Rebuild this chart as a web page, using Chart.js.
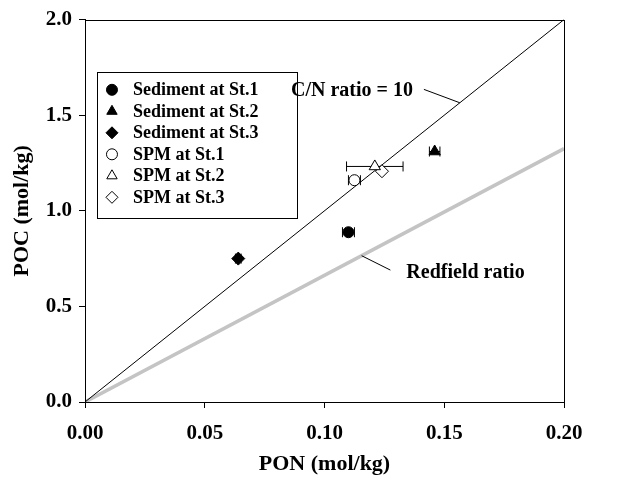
<!DOCTYPE html>
<html>
<head>
<meta charset="utf-8">
<script src="https://cdn.jsdelivr.net/npm/chart.js@4/dist/chart.umd.min.js"></script>
<style>
html,body{margin:0;padding:0;background:#fff;}
#wrap{width:627px;height:486px;position:relative;}
</style>
</head>
<body>
<div id="wrap"><canvas id="c" width="627" height="486"></canvas></div>
<script>
// ---- data ----
const seriesLabels = ['Sediment at St.1','Sediment at St.2','Sediment at St.3','SPM at St.1','SPM at St.2','SPM at St.3'];
const ponValues = [0.110, 0.146, 0.064, 0.1125, 0.121, 0.124];
const pocValues = [0.888, 1.310, 0.750, 1.160, 1.232, 1.207];
const ponErrors = [0.0025, 0.0022, 0.0012, 0.0025, 0.0118, 0.0];
const pointStyles = ['circle','triangle','rectRot','circle','triangle','rectRot'];
const filled = [true, true, true, false, false, false];
const xTicks = [0.00, 0.05, 0.10, 0.15, 0.20];
const yTicks = [0.0, 0.5, 1.0, 1.5, 2.0];
const cnRatio = 10;
const redfieldRatio = 106/16;
const cnLabel = 'C/N ratio = 10';
const redfieldLabel = 'Redfield ratio';

const FONT = "'Liberation Serif','Times New Roman',serif";

const pointSizes = {circle:5.5, triangle:6.5, rectRot:6.5};

const datasets = [];
datasets.push({
  type:'line', label:'redfield', data:[{x:0,y:0},{x:0.2,y:0.2*redfieldRatio}],
  borderColor:'#c4c4c4', borderWidth:3.5, pointRadius:0, fill:false, order:10
});
datasets.push({
  type:'line', label:'cn', data:[{x:0,y:0},{x:0.2,y:0.2*cnRatio}],
  borderColor:'#000', borderWidth:1, pointRadius:0, fill:false, order:9
});
seriesLabels.forEach((lab,i)=>{
  datasets.push({
    type:'scatter', label:lab,
    data:[{x:ponValues[i], y:pocValues[i], xerr:ponErrors[i]}],
    pointStyle:pointStyles[i],
    pointRadius:pointSizes[pointStyles[i]],
    backgroundColor: filled[i] ? '#000' : '#fff',
    borderColor:'#000', borderWidth:1, order:1,
    isSeries:true, seriesIndex:i
  });
});

const errorBars = {
  id:'errorBars',
  beforeDatasetsDraw(chart){
    const {ctx, scales:{x,y}} = chart;
    ctx.save();
    ctx.strokeStyle='#000'; ctx.lineWidth=1;
    chart.data.datasets.forEach(ds=>{
      if(!ds.isSeries) return;
      ds.data.forEach(p=>{
        if(!p.xerr) return;
        const yp = y.getPixelForValue(p.y);
        const x1 = x.getPixelForValue(p.x - p.xerr), x2 = x.getPixelForValue(p.x + p.xerr);
        ctx.beginPath();
        ctx.moveTo(x1,yp); ctx.lineTo(x2,yp);
        ctx.moveTo(x1,yp-5); ctx.lineTo(x1,yp+5);
        ctx.moveTo(x2,yp-5); ctx.lineTo(x2,yp+5);
        ctx.stroke();
      });
    });
    ctx.restore();
  }
};

const decorations = {
  id:'decorations',
  afterDraw(chart){
    const {ctx, chartArea:a, scales:{x,y}} = chart;
    ctx.save();
    // frame
    ctx.strokeStyle='#000'; ctx.lineWidth=1;
    ctx.strokeRect(Math.round(a.left)+0.5, Math.round(a.top)+0.5, Math.round(a.right-a.left), Math.round(a.bottom-a.top));
    // legend box
    const lx = x.getPixelForValue(0.005), ly = y.getPixelForValue(1.727);
    const lw = 200, rowH = 21.5, lh = 146;
    ctx.fillStyle='#fff';
    ctx.fillRect(lx, ly, lw, lh);
    ctx.strokeRect(Math.round(lx)+0.5, Math.round(ly)+0.5, lw, lh);
    ctx.font = "bold 18px " + FONT;
    ctx.textBaseline='middle';
    ctx.textAlign='left';
    seriesLabels.forEach((lab,i)=>{
      const cy = ly + 18 + i*rowH;
      ctx.fillStyle = filled[i] ? '#000' : '#fff';
      ctx.strokeStyle = '#000'; ctx.lineWidth=1;
      const st = pointStyles[i];
      Chart.helpers.drawPoint(ctx, {pointStyle:st, radius: st==='circle'?5.5:6, rotation:0, borderWidth:1}, lx+15, cy);
      ctx.fillStyle='#000';
      ctx.fillText(lab, lx+36, cy+1);
    });
    // annotations
    ctx.strokeStyle='#000'; ctx.lineWidth=1; ctx.fillStyle='#000';
    ctx.font = "bold 20px " + FONT;
    // C/N leader
    const cnEnd = [0.1565, 0.1565*cnRatio];
    const cnStart = [0.1415, 1.635];
    ctx.beginPath();
    ctx.moveTo(x.getPixelForValue(cnStart[0]), y.getPixelForValue(cnStart[1]));
    ctx.lineTo(x.getPixelForValue(cnEnd[0]), y.getPixelForValue(cnEnd[1]));
    ctx.stroke();
    ctx.textAlign='right';
    ctx.fillText(cnLabel, x.getPixelForValue(cnStart[0]) - 11, y.getPixelForValue(cnStart[1]) + 1);
    // Redfield leader
    const rfStart = [0.1155, 0.1155*redfieldRatio];
    const rfEnd = [0.1275, 0.69];
    ctx.beginPath();
    ctx.moveTo(x.getPixelForValue(rfStart[0]), y.getPixelForValue(rfStart[1]));
    ctx.lineTo(x.getPixelForValue(rfEnd[0]), y.getPixelForValue(rfEnd[1]));
    ctx.stroke();
    ctx.textAlign='left';
    ctx.fillText(redfieldLabel, x.getPixelForValue(rfEnd[0]) + 16, y.getPixelForValue(rfEnd[1]) + 3);
    ctx.restore();
  }
};

new Chart(document.getElementById('c'), {
  data:{datasets},
  options:{
    responsive:false, animation:false,
    devicePixelRatio:1,
    layout:{padding:{top:17, right:63, left:0, bottom:0}},
    plugins:{legend:{display:false}, tooltip:{enabled:false}},
    scales:{
      x:{
        type:'linear', min:0, max:0.2,
        afterBuildTicks(s){ s.ticks = xTicks.map(v=>({value:v})); },
        afterFit(s){ s.height = 84; },
        grid:{drawOnChartArea:false, color:'#000', tickLength:6, tickWidth:1},
        border:{color:'#000', width:1},
        ticks:{color:'#000', padding:13, font:{family:FONT, size:21, weight:'bold'}, callback:v=>v.toFixed(2), maxRotation:0},
        title:{display:true, text:'PON (mol/kg)', color:'#000', font:{family:FONT, size:22, weight:'bold'}, padding:{bottom:8}}
      },
      y:{
        type:'linear', min:0, max:2,
        afterBuildTicks(s){ s.ticks = yTicks.map(v=>({value:v})); },
        afterFit(s){ s.width = 85; },
        grid:{drawOnChartArea:false, color:'#000', tickLength:6, tickWidth:1},
        border:{color:'#000', width:1},
        ticks:{color:'#000', padding:7, font:{family:FONT, size:21, weight:'bold'}, callback:v=>v.toFixed(1)},
        title:{display:true, text:'POC (mol/kg)', color:'#000', font:{family:FONT, size:22, weight:'bold'}, padding:{top:9}}
      }
    }
  },
  plugins:[errorBars, decorations]
});
</script>
</body>
</html>
